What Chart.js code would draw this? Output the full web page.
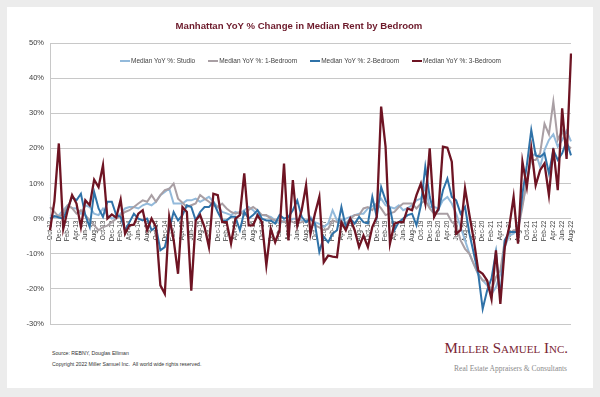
<!DOCTYPE html>
<html>
<head>
<meta charset="utf-8">
<script src="https://cdn.jsdelivr.net/npm/chart.js@4.4.0/dist/chart.umd.min.js"></script>
<style>
  html, body { margin: 0; padding: 0; }
  body { width: 600px; height: 397px; background: #ececec; position: relative; overflow: hidden;
         font-family: "Liberation Sans", Arial, sans-serif; }
  #card { position: absolute; left: 7px; top: 7px; width: 586px; height: 381px; background: #fff; }
  #chartBox { position: absolute; left: 0; top: 0; width: 600px; height: 340px; }
  #title { position: absolute; left: 0; width: 598px; top: 20px; text-align: center;
           font-weight: bold; font-size: 9.6px; color: #6d1a2b; white-space: nowrap; }
  #legend { position: absolute; left: 50px; width: 521px; top: 57px; display: flex; justify-content: center;
            gap: 13px; font-size: 6.5px; color: #404040; white-space: nowrap; line-height: 8px; }
  #legend .sw { display: inline-block; width: 10px; height: 2px; vertical-align: middle; margin-right: 1px; }
  #source { position: absolute; left: 52px; top: 348px; font-size: 5.2px; line-height: 10.5px; color: #333; }
  #logo1 { position: absolute; right: 32px; top: 340px; font-family: "Liberation Serif", "DejaVu Serif", serif;
           font-variant: small-caps; font-size: 15px; color: #7a2634; white-space: nowrap; }
  #logo2 { position: absolute; right: 33px; top: 364px; font-family: "Liberation Serif", "DejaVu Serif", serif;
           font-size: 7.5px; color: #8a8a8a; white-space: nowrap; }
</style>
</head>
<body>
<div id="card"></div>
<div id="chartBox"><canvas id="rentChart" width="600" height="340"></canvas></div>
<div id="title">Manhattan YoY % Change in Median Rent by Bedroom</div>
<div id="legend"></div>
<div id="source">Source: REBNY, Douglas Elliman<br>Copyright 2022 Miller Samuel Inc.&nbsp; All world wide rights reserved.</div>
<div id="logo1">Miller Samuel Inc.</div>
<div id="logo2">Real Estate Appraisers &amp; Consultants</div>
<script>
const months = [
  'Oct-12', 'Nov-12', 'Dec-12',
  'Jan-13', 'Feb-13', 'Mar-13', 'Apr-13', 'May-13', 'Jun-13', 'Jul-13', 'Aug-13', 'Sep-13', 'Oct-13', 'Nov-13', 'Dec-13',
  'Jan-14', 'Feb-14', 'Mar-14', 'Apr-14', 'May-14', 'Jun-14', 'Jul-14', 'Aug-14', 'Sep-14', 'Oct-14', 'Nov-14', 'Dec-14',
  'Jan-15', 'Feb-15', 'Mar-15', 'Apr-15', 'May-15', 'Jun-15', 'Jul-15', 'Aug-15', 'Sep-15', 'Oct-15', 'Nov-15', 'Dec-15',
  'Jan-16', 'Feb-16', 'Mar-16', 'Apr-16', 'May-16', 'Jun-16', 'Jul-16', 'Aug-16', 'Sep-16', 'Oct-16', 'Nov-16', 'Dec-16',
  'Jan-17', 'Feb-17', 'Mar-17', 'Apr-17', 'May-17', 'Jun-17', 'Jul-17', 'Aug-17', 'Sep-17', 'Oct-17', 'Nov-17', 'Dec-17',
  'Jan-18', 'Feb-18', 'Mar-18', 'Apr-18', 'May-18', 'Jun-18', 'Jul-18', 'Aug-18', 'Sep-18', 'Oct-18', 'Nov-18', 'Dec-18',
  'Jan-19', 'Feb-19', 'Mar-19', 'Apr-19', 'May-19', 'Jun-19', 'Jul-19', 'Aug-19', 'Sep-19', 'Oct-19', 'Nov-19', 'Dec-19',
  'Jan-20', 'Feb-20', 'Mar-20', 'Apr-20', 'May-20', 'Jun-20', 'Jul-20', 'Aug-20', 'Sep-20', 'Oct-20', 'Nov-20', 'Dec-20',
  'Jan-21', 'Feb-21', 'Mar-21', 'Apr-21', 'May-21', 'Jun-21', 'Jul-21', 'Aug-21', 'Sep-21', 'Oct-21', 'Nov-21', 'Dec-21',
  'Jan-22', 'Feb-22', 'Mar-22', 'Apr-22', 'May-22', 'Jun-22', 'Jul-22', 'Aug-22'
];

// YoY % change
const studio = [
  1, 0.5, 1,
  2.4, 3.8, 3, 2.9, 1.4, 3.8, 3.3, 1.4, 1, 2.9, 1, 0,
  0.5, 1.4, 2.9, 3.3, 3.3, 2.9, 3.8, 4.3, 3.8, 4.8, 6.7, 7.6,
  8.6, 4.3, 4.3, 4.3, 5.2, 5.2, 5.7, 4.8, 5.5, 6.2, 4.8, 3.3,
  1.9, 1.5, 1, 1.9, 1.4, 2.4, 3.3, 2.4, 1, 1, 0.8, 0.5,
  -0.5, -1.4, -0.5, -1, 0, 0, -0.5, -1, 0.5, -1, -1.5, -2.4,
  -1.4, 2.4, -0.5, -0.5, 0, 0.5, 1, 1.4, 1.4, 2.9, 3.5, 4.3,
  5.7, 3.8, 3.3, 2.9, 3.8, 2.4, 3, 3.8, 5.2, 5.7, 9, 3.3,
  3.3, 2.9, 5.2, 6.2, 4.3, 1.4, -2.4, -6.2, -10, -13, -16, -17.6,
  -19, -21.5, -19.5, -15.7, -8.1, -4.8, -4.3, -2, 4.3, 10, 17.6, 18.6,
  14.8, 19.5, 22.4, 24, 20.5, 22.4, 25, 22
];
const oneBed = [
  3.3, 1.9, 0.5,
  1.4, 3.8, 3, 1.4, 2.4, 1, -0.5, -1.9, -3.3, -2.4, -2, -1,
  0, 1, 1.9, 2.4, 3.3, 4.3, 5.2, 4.8, 6.7, 4.8, 6.7, 8.1,
  8.5, 10, 5.7, 4.5, 3.3, 3.8, 4.3, 6.7, 5.7, 4.8, 3.8, 3.3,
  4.3, 2.9, 1.9, 1.4, 1.9, 1, 2.5, 3.3, 2.4, 1, 1, 0,
  -0.5, -0.5, -1, -0.5, -1, -1.4, -1, -0.5, 0, -1.9, -2.5, -3.3,
  -2.9, -0.5, -1, -1.2, -1.4, 0, 1, 1, 2.9, 3.3, 2.4, 4.3,
  2.9, 1, 1.5, 1.9, 3.3, 4.3, 4.3, 4.3, 2.9, 4.3, 5.2, 2.9,
  1.4, 1.4, 1.4, 1.4, -1, -1.9, -6.2, -8.6, -10, -13, -15.7, -17.6,
  -17.6, -20.5, -16.7, -14.8, -6.2, -4.3, -3.3, -3.3, 3.3, 11, 16.7, 16.7,
  18.6, 27, 24, 33.3, 22.4, 25, 21, 20
];
const twoBed = [
  0, 0.7, 0.3,
  0, 2.9, 6.2, 5.2, 7.1, 1, -2.4, 7.6, 2.9, 0.5, 4.8, 4.8,
  1, 0.5, -3.3, -1, 1.4, 0, -0.5, 0, -3.3, -2.4, -9, -8.1,
  -3, 1.9, -0.5, 1, 3.8, 3.3, -0.5, 1.9, 3.3, 3.3, 4.8, 1.9,
  -0.5, -0.5, 0.5, 0.5, -3.3, 1.9, 0, 1, 2.4, 0, -0.5, -0.5,
  -1.4, 1, 0, 0.5, 2.4, 5.2, 0.5, -1, 0, -1.4, -9.5, -5.2,
  -6.7, -4.3, -3.3, 3.3, -2.4, 0, -1.4, 0.5, -1, -1.4, 6.2, 0.5,
  9, 5.2, 2.9, -3.3, -1, 0, 1, 1.4, -1.9, 3.8, 14.8, 6.2,
  1.4, 2.4, 8.1, 11.4, 6.2, 5.2, 1.4, 3.3, -4.3, -10, -15.7, -25.7,
  -20.5, -17, -9.5, -22.4, -6.2, -3.8, -3.8, -3.8, 7.1, 15.2, 25.2, 18,
  17.6, 18.6, 12.9, 19.5, 16.7, 18.6, 22, 18
];
const threeBed = [
  -3.3, 5, 21.4,
  -2.9, 2.4, 6.7, 4.3, -2.4, 5.2, 3.8, 11.1, 9, 15.2, 0, 1.2,
  0.3, 5.4, -4.3, -1.9, -1.7, 1.4, 2.4, -3.3, 0, -2.4, -19, -21.4,
  0.5, -6, -15.7, 3.3, 1.9, -20.5, -0.5, 1, -2.4, -8.1, 7.1, 6.7,
  -1, -1, -7.1, 0, 1, 12.9, -1.9, -1.9, 1, -1, -13.3, -2.9,
  -6.7, -3.3, 15.7, -6.2, 11, -2, 2.4, 9.5, -4.3, 1.4, 6.2, -12.4,
  -10.5, -10.8, -11, -1, -3.3, 0, -3.3, -8.1, -4.8, -8.1, -2.4, 0.5,
  31.9, 20.5, -7.1, -1.4, -1, -1, 2.9, 2.4, 6.7, 10, 4.3, 20,
  0.5, 2.9, 20.5, 20.2, 16.2, -4.3, -3.3, 8.6, 1, -6.2, -14.8, -15.7,
  -17.6, -22.9, -9, -24.3, -8.1, -2.4, 6.2, -7.1, 16.2, 9, 20, 9.5,
  13.8, 15.7, 6.7, 20, 8.1, 31.4, 17, 47
];

const seriesNames = ['Median YoY %: Studio', 'Median YoY %: 1-Bedroom', 'Median YoY %: 2-Bedroom', 'Median YoY %: 3-Bedroom'];
const seriesColors = ['#93badb', '#a99fa4', '#2f72a8', '#6e1423'];
const seriesData = [studio, oneBed, twoBed, threeBed];

const fontFamily = '"Liberation Sans", Arial, sans-serif';

// legend inside the plot, like the original
const legend = document.getElementById('legend');
seriesNames.forEach((name, i) => {
    const item = document.createElement('span');
    item.innerHTML = '<span class="sw" style="background:' + seriesColors[i] + '"></span>' + name;
    legend.appendChild(item);
});

const datasets = seriesData.map((data, i) => ({
    label: seriesNames[i],
    data: data,
    borderColor: seriesColors[i],
    backgroundColor: seriesColors[i],
    borderWidth: i === 3 ? 2.3 : 2,
    pointRadius: 0,
    tension: 0,
    fill: false,
    order: 3 - i // 3-bedroom drawn on top
}));

new Chart(document.getElementById('rentChart'), {
    type: 'line',
    data: { labels: months, datasets },
    options: {
        responsive: false,
        animation: false,
        layout: { padding: { top: 43, right: 29, bottom: 16, left: 0 } },
        plugins: {
            legend: { display: false },
            title: { display: false },
            tooltip: { enabled: false }
        },
        scales: {
            x: {
                position: { y: 0 },
                grid: { display: false, drawTicks: false },
                border: { display: false },
                ticks: {
                    autoSkip: false,
                    minRotation: 90,
                    maxRotation: 90,
                    padding: 2,
                    color: '#404040',
                    font: { family: fontFamily, size: 6.5 },
                    callback: function (value, index) {
                        return index % 2 === 0 ? this.getLabelForValue(value) : '';
                    }
                }
            },
            y: {
                min: -30,
                max: 50,
                afterFit: scale => { scale.width = 50; },
                grid: { color: '#c8c8c8', lineWidth: 1, drawTicks: false },
                border: { color: '#c8c8c8' },
                ticks: {
                    stepSize: 10,
                    padding: 6,
                    color: '#404040',
                    font: { family: fontFamily, size: 7.5 },
                    callback: v => v + '%'
                }
            }
        }
    }
});
</script>
</body>
</html>
